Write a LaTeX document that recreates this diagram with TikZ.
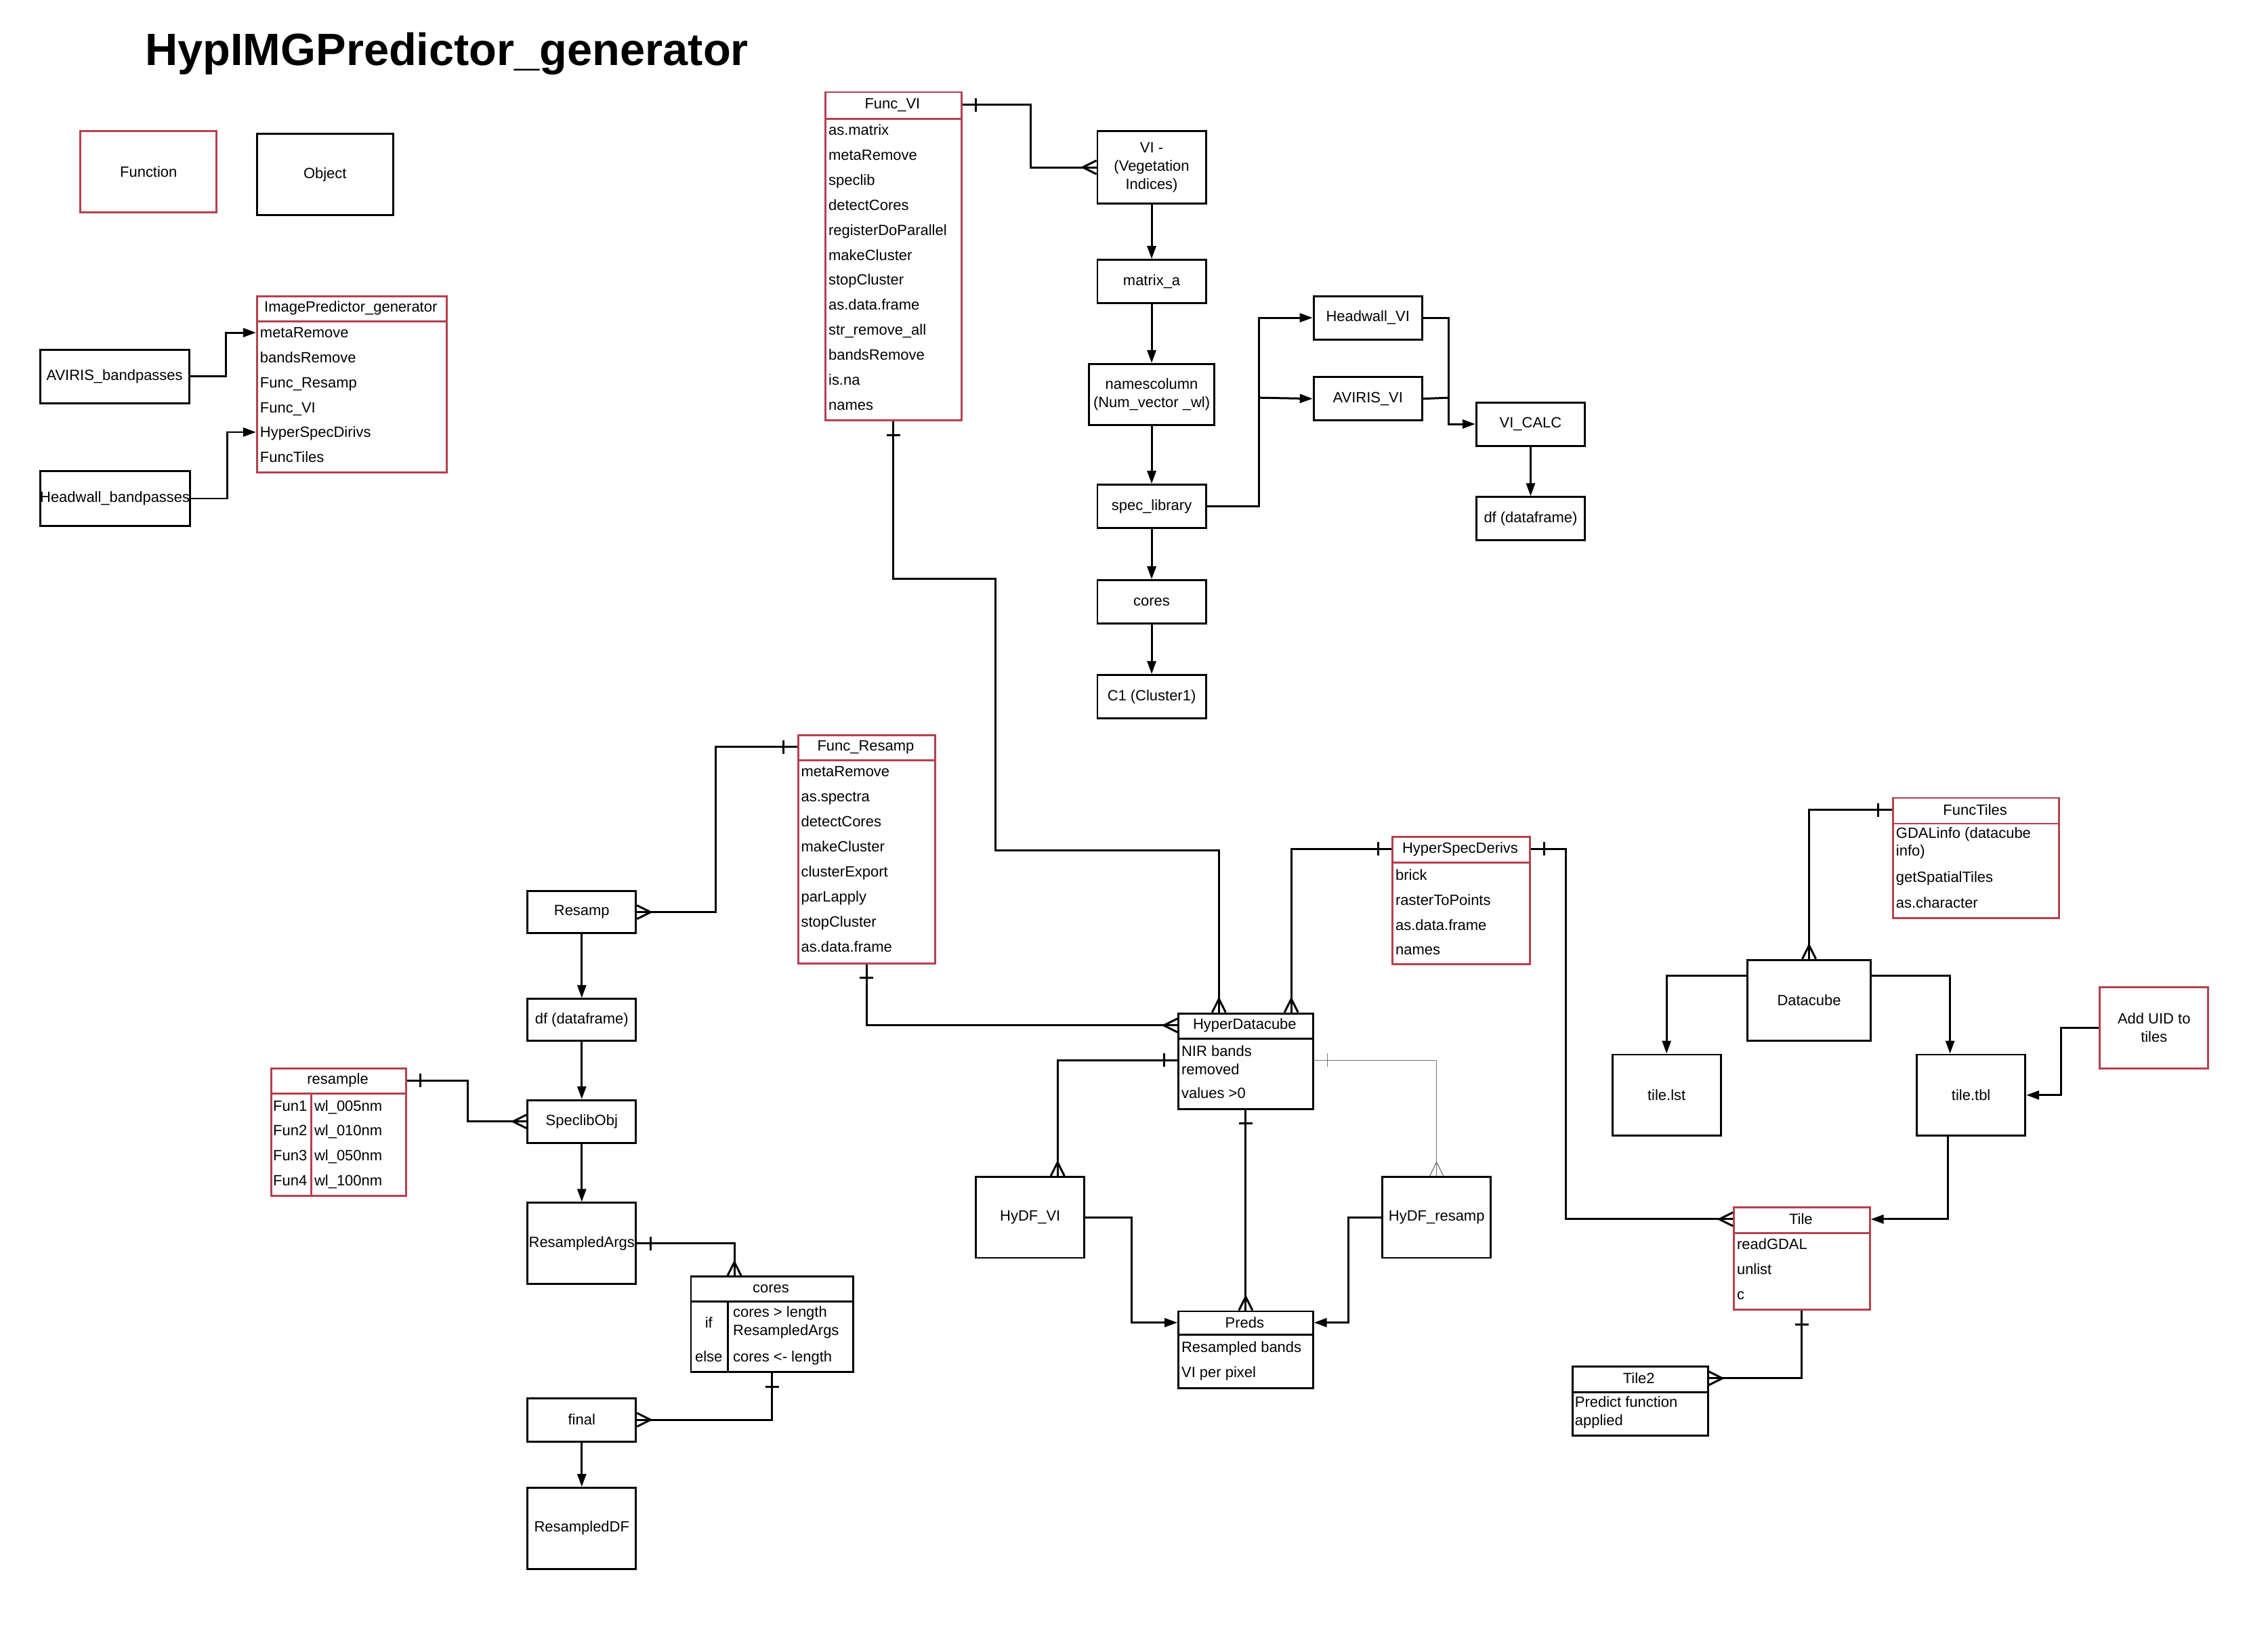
\documentclass[tikz,border=0pt]{standalone}
\usepackage{fontspec}
\setmainfont{Liberation Sans}
\usepackage{tikz}
\usetikzlibrary{arrows.meta}
\usetikzlibrary{decorations.markings}
\usetikzlibrary{positioning}
\definecolor{fred}{RGB}{182,64,78}
\newlength{\ux}
\setlength{\ux}{0.2135mm}
\newcommand{\fs}{\fontsize{6.25}{7.6}\selectfont}

\tikzset{
  obj/.style={draw, line width=0.85pt, anchor=north west, align=center, inner xsep=0.5pt, inner ysep=1pt, font=\fs},
  fun/.style={obj, draw=fred},
  hd/.style={font=\fs, inner sep=0pt},
  row/.style={anchor=west, inner sep=0pt, font=\fs, text height=2mm, text depth=0.45mm},
  rows/.style={anchor=west, inner sep=0pt, font=\fs, align=left},
  link/.style={line width=0.85pt},
  arr/.style={link, -{Triangle[length=1.9mm, width=1.3mm]}},
  er/.style={link, postaction={decorate, decoration={markings,
      mark=at position 2mm with {\draw (0mm,-1mm) -- (0mm,1mm);},
      mark=at position 1 with {\draw (0mm,-1mm) -- (-2mm,0mm) -- (0mm,1mm);}}}}
}

\begin{document}
\begin{tikzpicture}[x=0.2135mm, y=-0.2135mm]
\useasboundingbox (0,0) rectangle (1568,1126);

% title and key
\node[font=\fontsize{19}{22}\selectfont\bfseries, anchor=base west, inner sep=0pt] (title) at (100,45) {HypIMGPredictor\_generator};
\node[fun, minimum width=94*\ux, minimum height=56*\ux] (kfun) at (55,90) {Function};
\node[obj, minimum width=94*\ux, minimum height=56*\ux] (kobj) at (177,92) {Object};

% bandpasses into ImagePredictor_generator
\node[obj, minimum width=103*\ux, minimum height=37*\ux] (avbp) at (27,241) {AVIRIS\_bandpasses};
\node[obj, minimum width=103*\ux, minimum height=38*\ux, inner xsep=0pt] (hwbp) at (27,325) {Headwall\_bandpasses};
\node[fun, minimum width=131*\ux, minimum height=122*\ux] (ipg) at (177,204) {};
\node[hd] (ipg-h) at (242.5,213) {ImagePredictor\_generator};
\draw[fred, link] (177,222) -- (308,222);
\foreach \lb [count=\i] in {metaRemove, bandsRemove, Func\_Resamp, Func\_VI, HyperSpecDirivs, FuncTiles}
  \node[row] (ipg-\i) at (179.5,{212.8+17.2*\i}) {\lb};
\draw[arr] (avbp.east) -- ++(25,0) |- (ipg.west |- ipg-1);
\draw[arr] (hwbp.east) -- ++(25,0) |- (ipg.west |- ipg-5);

% Func_VI
\node[fun, minimum width=94*\ux, minimum height=227*\ux] (fvi) at (570,63) {};
\node[hd] (fvi-h) at (617,72.5) {Func\_VI};
\draw[fred, link] (570,82) -- (664,82);
\foreach \lb [count=\i] in {as.matrix, metaRemove, speclib, detectCores, registerDoParallel, makeCluster, stopCluster, as.data.frame, str\_remove\_all, bandsRemove, is.na, names}
  \node[row] (fvi-\i) at (572.5,{72.6+17.27*\i}) {\lb};

% VI chain
\node[obj, minimum width=75*\ux, minimum height=50*\ux] (vi) at (758,90) {VI -\\(Vegetation\\Indices)};
\node[obj, minimum width=75*\ux, minimum height=30*\ux] (mtx) at (758,179) {matrix\_a};
\node[obj, minimum width=87*\ux, minimum height=42*\ux] (nmc) at (752,251) {namescolumn\\(Num\_vector \_wl)};
\node[obj, minimum width=75*\ux, minimum height=30*\ux] (spl) at (758,334.5) {spec\_library};
\node[obj, minimum width=75*\ux, minimum height=30*\ux] (cor) at (758,400.5) {cores};
\node[obj, minimum width=75*\ux, minimum height=30*\ux] (cl1) at (758,466) {C1 (Cluster1)};
\node[obj, minimum width=75*\ux, minimum height=30*\ux] (hvi) at (907.5,204) {Headwall\_VI};
\node[obj, minimum width=75*\ux, minimum height=30*\ux] (avi) at (907.5,260) {AVIRIS\_VI};
\node[obj, minimum width=75*\ux, minimum height=30*\ux] (vic) at (1020,277.5) {VI\_CALC};
\node[obj, minimum width=75*\ux, minimum height=30*\ux] (vdf) at (1020,343) {df (dataframe)};

\draw[er] (fvi.east |- fvi-h) -- ++(47,0) |- (vi.west);
\draw[arr] (vi.south) -- (mtx.north);
\draw[arr] (mtx.south) -- (nmc.north);
\draw[arr] (nmc.south) -- (spl.north);
\draw[arr] (spl.south) -- (cor.north);
\draw[arr] (cor.south) -- (cl1.north);
\coordinate (j1) at (870.5,275);
\coordinate (j2) at (1001.5,275);
\draw[arr] (spl.east) -| (j1) |- (hvi.west);
\draw[arr] (j1) -- (avi.west);
\draw[arr] (hvi.east) -| (j2) |- (vic.west);
\draw[link] (avi.east) -- (j2);
\draw[arr] (vic.south) -- (vdf.north);

% Func_Resamp and the resampling chain
\node[fun, minimum width=95*\ux, minimum height=158*\ux] (frs) at (551,507.5) {};
\node[hd] (frs-h) at (598.5,516.5) {Func\_Resamp};
\draw[fred, link] (551,525.5) -- (646,525.5);
\foreach \lb [count=\i] in {metaRemove, as.spectra, detectCores, makeCluster, clusterExport, parLapply, stopCluster, as.data.frame}
  \node[row] (frs-\i) at (553.5,{516.2+17.3*\i}) {\lb};

\node[obj, minimum width=75*\ux, minimum height=29*\ux] (rsp) at (364,615.5) {Resamp};
\node[obj, minimum width=75*\ux, minimum height=29*\ux] (dfr) at (364,690) {df (dataframe)};
\node[obj, minimum width=75*\ux, minimum height=29.5*\ux] (slo) at (364,760) {SpeclibObj};
\node[obj, minimum width=75*\ux, minimum height=56*\ux] (rsa) at (364,831) {ResampledArgs};
\node[obj, minimum width=75*\ux, minimum height=30*\ux] (fin) at (364,966) {final};
\node[obj, minimum width=75*\ux, minimum height=56*\ux] (rdf) at (364,1028) {ResampledDF};
\draw[er] (frs.west |- frs-h) -- ++(-56,0) |- (rsp.east);
\draw[arr] (rsp.south) -- (dfr.north);
\draw[arr] (dfr.south) -- (slo.north);
\draw[arr] (slo.south) -- (rsa.north);
\draw[arr] (fin.south) -- (rdf.north);

% resample
\node[fun, minimum width=93*\ux, minimum height=88*\ux] (rsm) at (187,738) {};
\node[hd] (rsm-h) at (233.5,747) {resample};
\draw[fred, link] (187,756) -- (280,756);
\draw[fred, link] (215,756) -- (215,826);
\foreach \lb [count=\i] in {005, 010, 050, 100} {
  \node[row] (rsm-\i) at (188.5,{747.3+17.2*\i}) {Fun\i};
  \node[row] at (217,{747.3+17.2*\i}) {wl\_\lb nm};
}
\draw[er] (rsm.east |- rsm-h) -- ++(42,0) |- (slo.west);

% cores
\node[obj, minimum width=112*\ux, minimum height=66*\ux] (crs) at (477,882) {};
\node[hd] (crs-h) at (533,891) {cores};
\draw[link] (477,900) -- (589,900);
\draw[link] (503,900) -- (503,948);
\node[hd] (crs-if) at (490,914.5) {if};
\node[hd] (crs-else) at (490,938) {else};
\node[rows] (crs-1) at (506.5,914.5) {cores > length\\ResampledArgs};
\node[row] (crs-2) at (506.5,938) {cores <- length};
\draw[er] (rsa.east) -| ([xshift=-5.55mm]crs.north);
\draw[er] (crs.south) |- (fin.east);

% HyperDatacube
\node[obj, minimum width=93*\ux, minimum height=66*\ux] (hdc) at (814,700) {};
\node[hd] (hdc-h) at (860.5,709) {HyperDatacube};
\draw[link] (814,718) -- (907,718);
\node[rows] (hdc-1) at (816.5,733) {NIR bands\\removed};
\node[row] (hdc-2) at (816.5,756) {values >0};
\draw[er] (fvi.south) |- (688,400) -- (688,588) -| ([xshift=-3.95mm]hdc.north);
\draw[er] (frs.south) |- (hdc.west |- hdc-h);

% HyperSpecDerivs
\node[fun, minimum width=95*\ux, minimum height=88*\ux] (hsd) at (962,578) {};
\node[hd] (hsd-h) at (1009.5,587) {HyperSpecDerivs};
\draw[fred, link] (962,596.5) -- (1057,596.5);
\foreach \lb [count=\i] in {brick, rasterToPoints, as.data.frame, names}
  \node[row] (hsd-\i) at (964.5,{587.5+17.3*\i}) {\lb};
\draw[er] (hsd.west |- hsd-h) -| ([xshift=6.73mm]hdc.north);

% HyDF and Preds
\node[obj, minimum width=75*\ux, minimum height=56*\ux] (hyv) at (674,813) {HyDF\_VI};
\node[obj, minimum width=75*\ux, minimum height=56*\ux] (hyr) at (955,813) {HyDF\_resamp};
\node[obj, minimum width=93*\ux, minimum height=53*\ux] (prd) at (814,906) {};
\node[hd] (prd-h) at (860.5,914.5) {Preds};
\draw[link] (814,923) -- (907,923);
\node[row] (prd-1) at (816.5,931.5) {Resampled bands};
\node[row] (prd-2) at (816.5,948.8) {VI per pixel};
\draw[er] (hdc.west |- hdc-1) -| ([xshift=4.05mm]hyv.north);
\draw[er, line width=0.35pt, draw=black!55] (hdc.east |- hdc-1) -| (hyr.north);
\draw[er] (hdc.south) -- (prd.north);
\draw[arr] (hyv.east) -- ++(32,0) |- (prd.west |- prd-h);
\draw[arr] (hyr.west) -- ++(-23,0) |- (prd.east |- prd-h);

% FuncTiles and tiles
\node[fun, minimum width=115*\ux, minimum height=83*\ux] (ftl) at (1308,551) {};
\node[hd] (ftl-h) at (1365.5,560) {FuncTiles};
\draw[fred, link] (1308,569.5) -- (1423,569.5);
\node[rows] (ftl-1) at (1310.5,583) {GDALinfo (datacube\\info)};
\node[row] (ftl-2) at (1310.5,606.5) {getSpatialTiles};
\node[row] (ftl-3) at (1310.5,624) {as.character};

\node[obj, minimum width=85*\ux, minimum height=56*\ux] (dc) at (1207.5,663) {Datacube};
\node[obj, minimum width=75*\ux, minimum height=56*\ux] (tls) at (1114,728.5) {tile.lst};
\node[obj, minimum width=75*\ux, minimum height=56*\ux] (ttb) at (1324.5,728.5) {tile.tbl};
\node[fun, minimum width=75*\ux, minimum height=56*\ux] (uid) at (1451,682) {Add UID to\\tiles};

\node[fun, minimum width=94*\ux, minimum height=71*\ux] (tile) at (1198,834) {};
\node[hd] (tile-h) at (1245,843) {Tile};
\draw[fred, link] (1198,852.5) -- (1292,852.5);
\foreach \lb [count=\i] in {readGDAL, unlist, c}
  \node[row] (tile-\i) at (1200.5,{843.1+17.3*\i}) {\lb};

\node[obj, minimum width=93.5*\ux, minimum height=48*\ux] (tl2) at (1086.5,944) {};
\node[hd] (tl2-h) at (1133,953) {Tile2};
\draw[link] (1086.5,962.5) -- (1180,962.5);
\node[rows] (tl2-1) at (1088.5,976.5) {Predict function\\applied};

\draw[er] (ftl.west |- ftl-h) -| (dc.north);
\draw[arr] ([yshift=3.6mm]dc.west) -| (tls.north);
\draw[arr] ([yshift=3.6mm]dc.east) -| ([xshift=-3.1mm]ttb.north);
\draw[arr] (uid.west) -- ++(-26,0) |- (ttb.east);
\draw[arr] ([xshift=-3.4mm]ttb.south) |- (tile.east |- tile-h);
\draw[er] (hsd.east |- hsd-h) -- ++(24,0) |- (tile.west |- tile-h);
\draw[er] (tile.south) |- (tl2.east |- tl2-h);
\end{tikzpicture}
\end{document}
